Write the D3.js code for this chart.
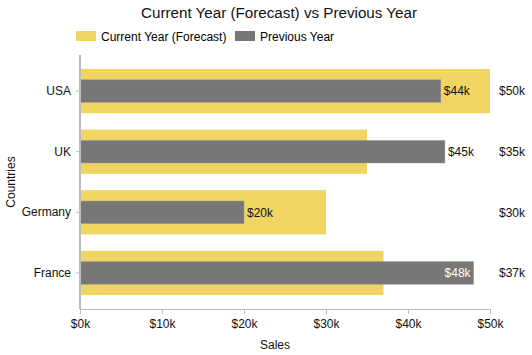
<!DOCTYPE html>
<html><head><meta charset="utf-8">
<script src="https://cdn.jsdelivr.net/npm/d3@7"></script>
<style>body{margin:0;background:#fff;} text{font-family:Arial,"Liberation Sans",sans-serif;}</style>
</head><body><svg id="c" width="532" height="355"></svg>
<script>
const countries = ["USA","UK","Germany","France"];
const currentYear = [50,35,30,37];
const previousYear = [44,44.5,20,48];
const prevLabels = ["$44k","$45k","$20k","$48k"];
const xTicks = [0,10,20,30,40,50];

const svg = d3.select("#c");
const m = {l:80, r:42, t:55, b:46};
const W = 532, H = 355;
const x = d3.scaleLinear().domain([0,50]).range([m.l, W-m.r]);
const y = d3.scaleBand().domain(countries).range([m.t, H-m.b]).paddingInner(0.27).paddingOuter(0.23);
const cY = "#f0d563", pY = "#777777";

svg.append("text").attr("x",279).attr("y",18).attr("text-anchor","middle").attr("font-size",15.2).attr("fill","#111").text("Current Year (Forecast) vs Previous Year");

const lg = svg.append("g");
lg.append("rect").attr("x",76).attr("y",31).attr("width",20).attr("height",10).attr("fill",cY);
lg.append("text").attr("x",101).attr("y",40.5).attr("font-size",12).text("Current Year (Forecast)");
lg.append("rect").attr("x",235).attr("y",31).attr("width",20).attr("height",10).attr("fill",pY);
lg.append("text").attr("x",260).attr("y",41).attr("font-size",12).text("Previous Year");

svg.selectAll(".cur").data(countries).join("rect")
  .attr("x",x(0)).attr("y",d=>y(d)).attr("height",y.bandwidth())
  .attr("width",(d,i)=>x(currentYear[i])-x(0)).attr("fill",cY);
const ph = y.bandwidth()*0.51;
svg.selectAll(".prev").data(countries).join("rect")
  .attr("x",x(0)).attr("y",d=>y(d)+(y.bandwidth()-ph)/2).attr("height",ph)
  .attr("width",(d,i)=>x(previousYear[i])-x(0)).attr("fill",pY)
  .attr("stroke","#999").attr("stroke-width",0.5);

svg.selectAll(".cl").data(countries).join("text")
  .attr("x",W-m.r+9).attr("y",d=>y(d)+y.bandwidth()/2).attr("dy","0.35em")
  .attr("font-size",12).attr("fill","#111").text((d,i)=>"$"+currentYear[i]+"k");
svg.selectAll(".pl").data(countries).join("text")
  .each(function(d,i){
    const inside = previousYear[i] > 46;
    d3.select(this).attr("x", inside ? x(previousYear[i])-3 : x(previousYear[i])+3)
      .attr("text-anchor", inside ? "end":"start")
      .attr("fill", inside ? "#fff":"#111");
  })
  .attr("y",d=>y(d)+y.bandwidth()/2).attr("dy","0.35em").attr("font-size",12)
  .text((d,i)=>prevLabels[i]);

const xa = svg.append("g").attr("transform",`translate(0,${H-m.b})`)
  .call(d3.axisBottom(x).tickValues(xTicks).tickSize(5).tickFormat(d=>"$"+d+"k"));
xa.select(".domain").attr("stroke","#bbb");
xa.selectAll(".tick line").attr("stroke","#bbb");
xa.selectAll(".tick text").attr("font-size",12).attr("fill","#111").attr("font-family","Arial,'Liberation Sans',sans-serif").attr("dy","0.9em");

const ya = svg.append("g").attr("transform",`translate(${m.l},0)`)
  .call(d3.axisLeft(y).tickSize(4).tickPadding(5));
ya.select(".domain").attr("stroke","#bbb").attr("stroke-width",2).attr("d",`M0,${m.t}V${H-m.b}`);
ya.selectAll(".tick line").attr("stroke","#bbb");
ya.selectAll(".tick text").attr("font-size",12).attr("fill","#111").attr("font-family","Arial,'Liberation Sans',sans-serif");

svg.append("text").attr("x",275).attr("y",349).attr("text-anchor","middle").attr("font-size",12).attr("fill","#111").text("Sales");
svg.append("text").attr("transform",`translate(15,182) rotate(-90)`).attr("text-anchor","middle").attr("font-size",12).attr("fill","#111").text("Countries");
</script></body></html>
